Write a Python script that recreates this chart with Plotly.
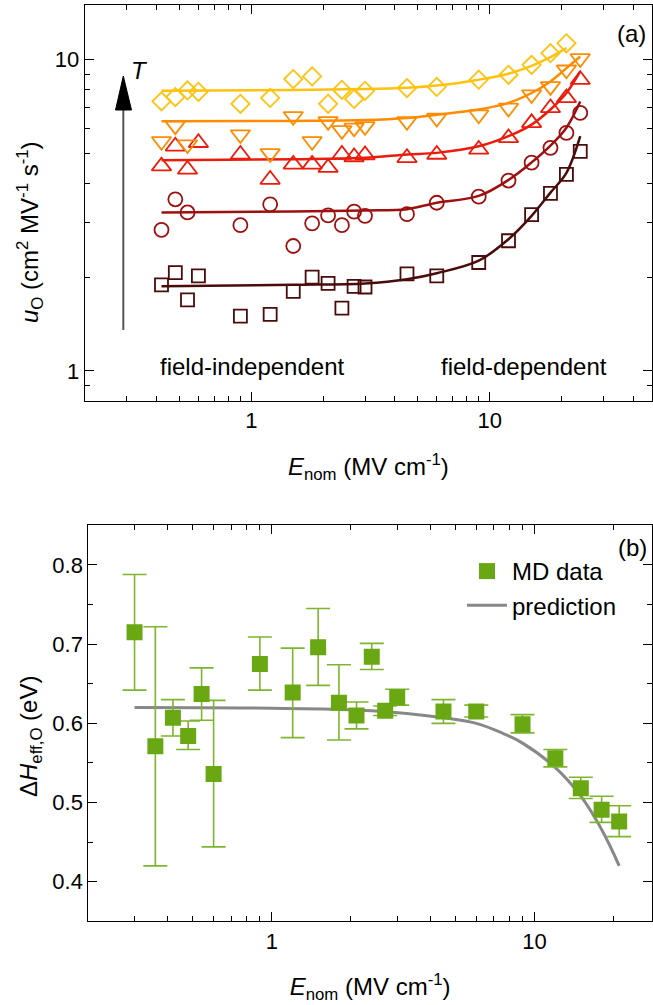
import numpy as np
import plotly.graph_objects as go

W, H = 653, 1005

# ---------------- Panel (a) data ----------------
E_top = [0.42, 0.48, 0.54, 0.6, 0.9, 1.2, 1.5, 1.8, 2.1, 2.4, 2.7, 3.0, 4.5, 6, 9, 12, 15, 18, 21, 24]

E_diam = [0.42, 0.48, 0.54, 0.6, 0.9, 1.2, 1.5, 1.8, 2.1, 2.4, 2.7, 3.0, 4.5, 6, 9, 12, 15, 18, 21]
u_diam = [7.35, 7.59, 7.97, 7.89, 7.22, 7.54, 8.67, 8.84, 7.22, 8.01, 7.48, 7.95, 8.11, 8.18, 8.63, 8.95, 9.63, 10.5, 11.3]

E_dtri = [0.42, 0.48, 0.54, 0.9, 1.2, 1.5, 1.8, 2.1, 2.4, 2.7, 3.0, 4.5, 6, 9, 12, 15, 18, 21, 24]
u_dtri = [5.47, 6.14, 5.34, 5.75, 5.00, 6.58, 5.47, 6.34, 5.93, 6.04, 6.11, 6.34, 6.50, 6.66, 7.00, 7.73, 8.21, 9.29, 10.1]

E_utri = E_top
u_utri = [4.55, 5.27, 4.44, 5.41, 4.96, 4.12, 4.61, 4.61, 4.50, 4.96, 4.87, 4.94, 4.84, 4.96, 5.15, 5.61, 6.27, 7.00, 7.54, 8.63]

E_circ = [0.42, 0.48, 0.54, 0.9, 1.2, 1.5, 1.8, 2.1, 2.4, 2.7, 3.0, 4.5, 6, 9, 12, 15, 18, 21, 24]
u_circ = [2.84, 3.56, 3.23, 2.94, 3.43, 2.52, 2.98, 3.16, 2.94, 3.25, 3.15, 3.19, 3.47, 3.63, 4.09, 4.67, 5.21, 5.82, 6.75]

E_sq = E_top
u_sq = [1.89, 2.07, 1.69, 2.02, 1.50, 1.52, 1.80, 2.00, 1.91, 1.59, 1.87, 1.86, 2.05, 2.02, 2.23, 2.62, 3.18, 3.72, 4.28, 5.08]

# fitted curves
E_fit = [0.42, 1.5, 3, 4.5, 6, 9, 12, 15, 18, 21, 24]
fit_diam = [7.95, 8.0, 8.05, 8.13, 8.26, 8.63, 9.02, 9.56, 10.2, 10.9]
fit_dtri = [6.34, 6.36, 6.40, 6.50, 6.66, 6.92, 7.27, 7.82, 8.52, 9.40, 10.25]
fit_utri = [4.75, 4.79, 4.84, 4.96, 5.02, 5.27, 5.68, 6.19, 6.92, 7.82, 9.17]
fit_circ = [3.23, 3.25, 3.28, 3.31, 3.47, 3.65, 4.11, 4.68, 5.30, 6.05, 7.34]
fit_sq = [1.87, 1.89, 1.91, 1.97, 2.06, 2.26, 2.65, 3.15, 3.74, 4.33, 5.68]

# ---------------- Panel (b) data ----------------
E_md = [0.3, 0.36, 0.42, 0.48, 0.54, 0.6, 0.9, 1.2, 1.5, 1.8, 2.1, 2.4, 2.7, 3.0, 4.5, 6, 9, 12, 15, 18, 21]
dH_md = [0.715, 0.571, 0.607, 0.584, 0.637, 0.536, 0.675, 0.639, 0.696, 0.626, 0.610, 0.684, 0.616, 0.633,
         0.615, 0.615, 0.599, 0.556, 0.518, 0.491, 0.476]
err_up = [0.073, 0.151, 0.023, 0.019, 0.033, 0.093, 0.034, 0.056, 0.049, 0.048, 0.017, 0.017, 0.006, 0.010,
          0.015, 0.008, 0.012, 0.011, 0.014, 0.017, 0.020]
err_dn = [0.073, 0.151, 0.023, 0.017, 0.033, 0.092, 0.033, 0.057, 0.048, 0.047, 0.017, 0.016, 0.006, 0.010,
          0.015, 0.007, 0.011, 0.011, 0.013, 0.016, 0.019]

E_pred = [0.3, 1.0, 2.4, 4.5, 6, 7.6, 9, 12, 15, 18, 21]
dH_pred = [0.620, 0.619, 0.616, 0.607, 0.600, 0.587, 0.575, 0.544, 0.508, 0.466, 0.420]

# colours
C_DIAM = "#FFC20E"
C_DTRI = "#FF8C00"
C_UTRI = "#EC1C0C"
C_CIRC = "#9E1010"
C_SQ = "#4A0B0B"
C_GREEN = "#69A713"
C_ERR = "#7DB52E"
C_GRAY = "#888888"

FONT = "Liberation Sans, Arial, Helvetica, sans-serif"

fig = go.Figure()

def add_series(Ex, uy, Efit, ufit, sym, size, col):
    fig.add_trace(go.Scatter(x=Efit[:len(ufit)], y=ufit, mode="lines",
                             line=dict(color=col, width=2.5, shape="spline", smoothing=1.0),
                             xaxis="x", yaxis="y", showlegend=False, hoverinfo="skip"))
    fig.add_trace(go.Scatter(x=Ex, y=uy, mode="markers",
                             marker=dict(symbol=sym, size=size, color=col, line=dict(color=col, width=1.8)),
                             xaxis="x", yaxis="y", showlegend=False))

add_series(E_sq, u_sq, E_fit, fit_sq, "square-open", 13, C_SQ)
add_series(E_circ, u_circ, E_fit, fit_circ, "circle-open", 14, C_CIRC)
add_series(E_utri, u_utri, E_fit, fit_utri, "triangle-up-open", 17, C_UTRI)
add_series(E_dtri, u_dtri, E_fit, fit_dtri, "triangle-down-open", 17, C_DTRI)
add_series(E_diam, u_diam, E_fit, fit_diam, "diamond-open", 14, C_DIAM)

# bottom panel
fig.add_trace(go.Scatter(x=E_pred, y=dH_pred, mode="lines", name="prediction",
                         line=dict(color=C_GRAY, width=3, shape="spline", smoothing=1.2),
                         xaxis="x2", yaxis="y2", legendrank=2))
fig.add_trace(go.Scatter(x=E_md, y=dH_md, mode="markers", name="MD data",
                         marker=dict(symbol="square", size=16, color=C_GREEN),
                         error_y=dict(type="data", array=err_up, arrayminus=err_dn, color=C_ERR, thickness=1.6, width=12),
                         xaxis="x2", yaxis="y2", legendrank=1))

def px_x(p):
    return p / W

def px_y(p):
    return 1 - p / H

minor_top_x = [0.2, 0.3, 0.4, 0.5, 0.6, 0.7, 0.8, 0.9, 2, 3, 4, 5, 6, 7, 8, 9, 20, 30, 40]
minor_top_y = [0.8, 0.9, 2, 3, 4, 5, 6, 7, 8, 9]
minor_bot_x = [0.2, 0.3, 0.4, 0.5, 0.6, 0.7, 0.8, 0.9, 2, 3, 4, 5, 6, 7, 8, 9, 20]

axis_common = dict(showline=True, linecolor="black", linewidth=1, mirror="allticks", ticks="inside",
                   ticklen=9, tickwidth=1, tickcolor="black", showgrid=False, zeroline=False,
                   automargin=False,
                   tickfont=dict(size=22, color="black", family=FONT))

fig.update_layout(
    width=W, height=H, margin=dict(l=0, r=0, t=0, b=0, autoexpand=False),
    paper_bgcolor="white", plot_bgcolor="white",
    font=dict(family=FONT, color="black", size=22),
    xaxis=dict(type="log", range=[np.log10(0.2), np.log10(48)], domain=[px_x(84.7), px_x(652)], anchor="y",
               tickvals=[1, 10], ticktext=["1", "10"],
               minor=dict(tickvals=minor_top_x, ticks="inside", ticklen=5, tickcolor="black"),
               title=dict(text="<i>E</i><sub>nom</sub> (MV cm<sup>-1</sup>)", font=dict(size=24), standoff=25),
               **axis_common),
    yaxis=dict(type="log", range=[np.log10(0.8), np.log10(15)], domain=[px_y(401), px_y(5)], anchor="x",
               tickvals=[1, 10], ticktext=["1", "10"],
               minor=dict(tickvals=minor_top_y, ticks="inside", ticklen=5, tickcolor="black"),
               **axis_common),
    xaxis2=dict(type="log", range=[np.log10(0.2), np.log10(28)], domain=[px_x(88.3), px_x(652)], anchor="y2",
                tickvals=[1, 10], ticktext=["1", "10"],
                minor=dict(tickvals=minor_bot_x, ticks="inside", ticklen=5, tickcolor="black"),
                title=dict(text="<i>E</i><sub>nom</sub> (MV cm<sup>-1</sup>)", font=dict(size=24), standoff=25),
                **axis_common),
    yaxis2=dict(range=[0.35, 0.85], domain=[px_y(921.3), px_y(525.4)], anchor="x2",
                tickvals=[0.4, 0.5, 0.6, 0.7, 0.8], ticktext=["0.4", "0.5", "0.6", "0.7", "0.8"],
                minor=dict(dtick=0.05, ticks="inside", ticklen=5, tickcolor="black"),
                **axis_common),
    legend=dict(x=px_x(462), y=px_y(549), xanchor="left", yanchor="top", bgcolor="rgba(0,0,0,0)",
                font=dict(size=24, family=FONT), tracegroupgap=0, itemwidth=40),
)

def ann(text, x, y, **kw):
    d = dict(text=text, x=px_x(x), y=px_y(y), xref="paper", yref="paper", showarrow=False,
             xanchor="center", yanchor="middle", font=dict(size=24, family=FONT, color="black"))
    d.update(kw)
    return d

annotations = [
    ann("(a)", 631, 33),
    ann("(b)", 632, 547),
    ann("<i>T</i>", 139, 70),
    ann("field-independent", 252, 366),
    ann("field-dependent", 524, 366),
    ann("<i>u</i><sub>O</sub> (cm<sup>2</sup> MV<sup>-1</sup> s<sup>-1</sup>)", 30, 232, textangle=-90),
    ann("Δ<i>H</i><sub>eff,O</sub> (eV)", 30, 737, textangle=-90),
]
fig.update_layout(annotations=annotations)

# temperature arrow
ax = px_x(123.3)
fig.add_shape(type="line", xref="paper", yref="paper", x0=ax, x1=ax, y0=px_y(330), y1=px_y(108),
              line=dict(color="#555555", width=2))
fig.add_shape(type="path", xref="paper", yref="paper",
              path=f"M {px_x(115.5)} {px_y(110)} L {px_x(131.5)} {px_y(110)} L {ax} {px_y(76)} Z",
              fillcolor="black", line=dict(color="black", width=1))

fig.write_html("out.html", config={"displayModeBar": False},
               post_script="document.body.style.margin='0';document.body.style.padding='0';document.documentElement.style.overflow='hidden';")
